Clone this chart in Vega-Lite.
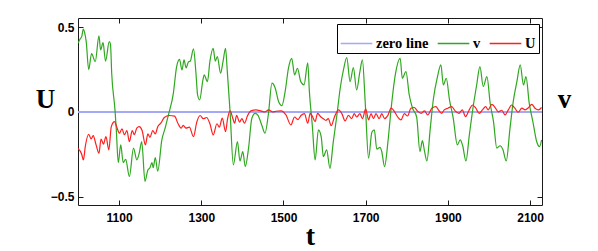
{
 "$schema": "https://vega.github.io/schema/vega-lite/v6.json",
 "width": 464,
 "height": 187,
 "autosize": {"type": "none"},
 "padding": {"left": 78, "top": 18, "right": 56, "bottom": 46},
 "background": "white",
 "config": {
  "view": {"stroke": null},
  "axis": {
   "domainColor": "#1a1a1a", "domainWidth": 1, "tickColor": "#1a1a1a", "tickWidth": 1, "tickSize": -5,
   "labelFont": "Liberation Sans", "labelFontWeight": "bold", "labelFontSize": 12, "labelColor": "black",
   "labelFlush": false, "labelOverlap": false, "grid": false,
   "titleFont": "Liberation Serif", "titleFontWeight": "bold", "titleFontSize": 27, "titleColor": "black",
   "zindex": 1
  }
 },
 "datasets": {
  "zero": [
   {"t": 1000, "s": "zero line", "y": 0},
   {"t": 2129, "s": "zero line", "y": 0}
  ],
  "vu": [
   {"t":1000,"s":"v","y":0.406},{"t":1005,"s":"v","y":0.43},{"t":1009,"s":"v","y":0.445},{"t":1013,"s":"v","y":0.489},{"t":1016,"s":"v","y":0.47},{"t":1020,"s":"v","y":0.415},{"t":1026,"s":"v","y":0.25},{"t":1033,"s":"v","y":0.345},{"t":1042,"s":"v","y":0.297},{"t":1051,"s":"v","y":0.449},{"t":1055,"s":"v","y":0.366},{"t":1061,"s":"v","y":0.409},{"t":1067,"s":"v","y":0.3},{"t":1076,"s":"v","y":0.415},{"t":1079,"s":"v","y":0.4},{"t":1082,"s":"v","y":0.229},{"t":1090,"s":"v","y":0.012},{"t":1093,"s":"v","y":-0.096},{"t":1098,"s":"v","y":-0.3},{"t":1104,"s":"v","y":-0.195},{"t":1110,"s":"v","y":-0.3},{"t":1116,"s":"v","y":-0.28},{"t":1125,"s":"v","y":-0.382},{"t":1135,"s":"v","y":-0.214},{"t":1143,"s":"v","y":-0.283},{"t":1149,"s":"v","y":-0.244},{"t":1155,"s":"v","y":-0.175},{"t":1163,"s":"v","y":-0.41},{"t":1170,"s":"v","y":-0.343},{"t":1175,"s":"v","y":-0.33},{"t":1180,"s":"v","y":-0.3},{"t":1183,"s":"v","y":-0.33},{"t":1188,"s":"v","y":-0.27},{"t":1194,"s":"v","y":-0.35},{"t":1204,"s":"v","y":-0.165},{"t":1212,"s":"v","y":-0.096},{"t":1220,"s":"v","y":-0.018},{"t":1232,"s":"v","y":0.11},{"t":1240,"s":"v","y":0.268},{"t":1247,"s":"v","y":0.311},{"t":1253,"s":"v","y":0.248},{"t":1258,"s":"v","y":0.307},{"t":1263,"s":"v","y":0.26},{"t":1269,"s":"v","y":0.297},{"t":1273,"s":"v","y":0.3},{"t":1281,"s":"v","y":0.372},{"t":1287,"s":"v","y":0.229},{"t":1291,"s":"v","y":0.1},{"t":1296,"s":"v","y":0.071},{"t":1304,"s":"v","y":0.19},{"t":1307,"s":"v","y":0.219},{"t":1315,"s":"v","y":0.179},{"t":1321,"s":"v","y":0.3},{"t":1329,"s":"v","y":0.376},{"t":1334,"s":"v","y":0.3},{"t":1339,"s":"v","y":0.327},{"t":1347,"s":"v","y":0.229},{"t":1353,"s":"v","y":0.3},{"t":1359,"s":"v","y":0.376},{"t":1363,"s":"v","y":0.25},{"t":1370,"s":"v","y":0.002},{"t":1378,"s":"v","y":-0.313},{"t":1388,"s":"v","y":-0.175},{"t":1394,"s":"v","y":-0.29},{"t":1401,"s":"v","y":-0.234},{"t":1407,"s":"v","y":-0.323},{"t":1415,"s":"v","y":-0.214},{"t":1423,"s":"v","y":-0.037},{"t":1431,"s":"v","y":-0.008},{"t":1438,"s":"v","y":-0.02},{"t":1447,"s":"v","y":-0.077},{"t":1455,"s":"v","y":-0.126},{"t":1463,"s":"v","y":-0.018},{"t":1472,"s":"v","y":0.17},{"t":1480,"s":"v","y":0.14},{"t":1488,"s":"v","y":0.061},{"t":1496,"s":"v","y":0.037},{"t":1504,"s":"v","y":0.12},{"t":1512,"s":"v","y":0.258},{"t":1520,"s":"v","y":0.317},{"t":1527,"s":"v","y":0.219},{"t":1534,"s":"v","y":0.258},{"t":1542,"s":"v","y":0.179},{"t":1550,"s":"v","y":0.16},{"t":1559,"s":"v","y":0.29},{"t":1563,"s":"v","y":0.12},{"t":1570,"s":"v","y":-0.077},{"t":1577,"s":"v","y":-0.283},{"t":1585,"s":"v","y":-0.106},{"t":1592,"s":"v","y":-0.15},{"t":1597,"s":"v","y":-0.264},{"t":1605,"s":"v","y":-0.224},{"t":1613,"s":"v","y":-0.333},{"t":1621,"s":"v","y":-0.18},{"t":1630,"s":"v","y":-0.018},{"t":1638,"s":"v","y":0.14},{"t":1646,"s":"v","y":0.25},{"t":1654,"s":"v","y":0.321},{"t":1662,"s":"v","y":0.179},{"t":1670,"s":"v","y":0.262},{"t":1678,"s":"v","y":0.13},{"t":1686,"s":"v","y":0.24},{"t":1692,"s":"v","y":0.307},{"t":1699,"s":"v","y":0.05},{"t":1707,"s":"v","y":-0.273},{"t":1715,"s":"v","y":-0.12},{"t":1721,"s":"v","y":-0.106},{"t":1727,"s":"v","y":-0.22},{"t":1735,"s":"v","y":-0.21},{"t":1739,"s":"v","y":-0.234},{"t":1746,"s":"v","y":-0.323},{"t":1754,"s":"v","y":-0.18},{"t":1762,"s":"v","y":0.022},{"t":1772,"s":"v","y":0.219},{"t":1784,"s":"v","y":0.317},{"t":1789,"s":"v","y":0.199},{"t":1798,"s":"v","y":0.238},{"t":1806,"s":"v","y":0.1},{"t":1814,"s":"v","y":0.022},{"t":1824,"s":"v","y":-0.03},{"t":1832,"s":"v","y":-0.234},{"t":1838,"s":"v","y":-0.17},{"t":1843,"s":"v","y":-0.23},{"t":1849,"s":"v","y":-0.29},{"t":1857,"s":"v","y":-0.1},{"t":1865,"s":"v","y":0.081},{"t":1874,"s":"v","y":0.2},{"t":1883,"s":"v","y":0.278},{"t":1889,"s":"v","y":0.159},{"t":1896,"s":"v","y":0.199},{"t":1904,"s":"v","y":0.07},{"t":1913,"s":"v","y":-0.037},{"t":1923,"s":"v","y":-0.195},{"t":1930,"s":"v","y":-0.165},{"t":1936,"s":"v","y":-0.2},{"t":1944,"s":"v","y":-0.29},{"t":1952,"s":"v","y":-0.14},{"t":1961,"s":"v","y":0.022},{"t":1970,"s":"v","y":0.159},{"t":1978,"s":"v","y":0.268},{"t":1986,"s":"v","y":0.15},{"t":1995,"s":"v","y":0.209},{"t":2003,"s":"v","y":0.05},{"t":2011,"s":"v","y":-0.057},{"t":2019,"s":"v","y":-0.214},{"t":2027,"s":"v","y":-0.2},{"t":2034,"s":"v","y":-0.224},{"t":2042,"s":"v","y":-0.29},{"t":2051,"s":"v","y":-0.1},{"t":2059,"s":"v","y":0.061},{"t":2068,"s":"v","y":0.18},{"t":2076,"s":"v","y":0.278},{"t":2084,"s":"v","y":0.159},{"t":2090,"s":"v","y":0.209},{"t":2098,"s":"v","y":0.05},{"t":2107,"s":"v","y":-0.06},{"t":2116,"s":"v","y":-0.175},{"t":2123,"s":"v","y":-0.205},{"t":2128,"s":"v","y":-0.165},
   {"t":1000,"s":"U","y":-0.215},{"t":1005,"s":"U","y":-0.23},{"t":1009,"s":"U","y":-0.25},{"t":1013,"s":"U","y":-0.284},{"t":1018,"s":"U","y":-0.2},{"t":1026,"s":"U","y":-0.132},{"t":1032,"s":"U","y":-0.16},{"t":1037,"s":"U","y":-0.14},{"t":1044,"s":"U","y":-0.195},{"t":1051,"s":"U","y":-0.244},{"t":1056,"s":"U","y":-0.16},{"t":1062,"s":"U","y":-0.19},{"t":1068,"s":"U","y":-0.146},{"t":1075,"s":"U","y":-0.224},{"t":1081,"s":"U","y":-0.087},{"t":1089,"s":"U","y":-0.057},{"t":1094,"s":"U","y":-0.087},{"t":1101,"s":"U","y":-0.126},{"t":1107,"s":"U","y":-0.1},{"t":1113,"s":"U","y":-0.135},{"t":1119,"s":"U","y":-0.11},{"t":1125,"s":"U","y":-0.175},{"t":1132,"s":"U","y":-0.11},{"t":1137,"s":"U","y":-0.135},{"t":1143,"s":"U","y":-0.096},{"t":1149,"s":"U","y":-0.087},{"t":1156,"s":"U","y":-0.11},{"t":1164,"s":"U","y":-0.195},{"t":1170,"s":"U","y":-0.13},{"t":1175,"s":"U","y":-0.15},{"t":1182,"s":"U","y":-0.11},{"t":1188,"s":"U","y":-0.13},{"t":1194,"s":"U","y":-0.087},{"t":1202,"s":"U","y":-0.065},{"t":1210,"s":"U","y":-0.033},{"t":1222,"s":"U","y":-0.021},{"t":1235,"s":"U","y":-0.025},{"t":1243,"s":"U","y":-0.067},{"t":1251,"s":"U","y":-0.096},{"t":1256,"s":"U","y":-0.08},{"t":1263,"s":"U","y":-0.096},{"t":1271,"s":"U","y":-0.09},{"t":1281,"s":"U","y":-0.146},{"t":1289,"s":"U","y":-0.06},{"t":1297,"s":"U","y":-0.021},{"t":1305,"s":"U","y":-0.04},{"t":1313,"s":"U","y":-0.033},{"t":1321,"s":"U","y":-0.07},{"t":1329,"s":"U","y":-0.136},{"t":1338,"s":"U","y":-0.07},{"t":1344,"s":"U","y":-0.09},{"t":1351,"s":"U","y":-0.037},{"t":1359,"s":"U","y":-0.116},{"t":1364,"s":"U","y":-0.04},{"t":1370,"s":"U","y":0.006},{"t":1377,"s":"U","y":-0.04},{"t":1381,"s":"U","y":-0.067},{"t":1386,"s":"U","y":-0.02},{"t":1393,"s":"U","y":-0.06},{"t":1399,"s":"U","y":-0.04},{"t":1405,"s":"U","y":-0.067},{"t":1413,"s":"U","y":-0.02},{"t":1421,"s":"U","y":0.006},{"t":1433,"s":"U","y":0.012},{"t":1445,"s":"U","y":0.006},{"t":1454,"s":"U","y":0.0},{"t":1464,"s":"U","y":0.012},{"t":1474,"s":"U","y":0.0},{"t":1482,"s":"U","y":0.004},{"t":1494,"s":"U","y":0.006},{"t":1506,"s":"U","y":-0.018},{"t":1518,"s":"U","y":-0.077},{"t":1527,"s":"U","y":-0.03},{"t":1535,"s":"U","y":-0.045},{"t":1543,"s":"U","y":-0.02},{"t":1551,"s":"U","y":-0.01},{"t":1559,"s":"U","y":-0.067},{"t":1565,"s":"U","y":-0.008},{"t":1570,"s":"U","y":-0.025},{"t":1577,"s":"U","y":-0.057},{"t":1583,"s":"U","y":-0.008},{"t":1591,"s":"U","y":-0.03},{"t":1597,"s":"U","y":-0.04},{"t":1603,"s":"U","y":-0.05},{"t":1609,"s":"U","y":-0.04},{"t":1616,"s":"U","y":-0.081},{"t":1624,"s":"U","y":-0.03},{"t":1634,"s":"U","y":0.012},{"t":1642,"s":"U","y":-0.01},{"t":1650,"s":"U","y":-0.053},{"t":1658,"s":"U","y":-0.02},{"t":1666,"s":"U","y":-0.04},{"t":1672,"s":"U","y":-0.01},{"t":1678,"s":"U","y":-0.03},{"t":1686,"s":"U","y":-0.01},{"t":1692,"s":"U","y":-0.04},{"t":1700,"s":"U","y":0.018},{"t":1707,"s":"U","y":-0.047},{"t":1713,"s":"U","y":-0.01},{"t":1719,"s":"U","y":-0.04},{"t":1725,"s":"U","y":-0.01},{"t":1733,"s":"U","y":-0.04},{"t":1739,"s":"U","y":-0.01},{"t":1746,"s":"U","y":-0.04},{"t":1754,"s":"U","y":-0.02},{"t":1762,"s":"U","y":0.022},{"t":1770,"s":"U","y":0.002},{"t":1778,"s":"U","y":-0.03},{"t":1786,"s":"U","y":-0.047},{"t":1794,"s":"U","y":-0.01},{"t":1802,"s":"U","y":-0.024},{"t":1810,"s":"U","y":0.022},{"t":1818,"s":"U","y":0.026},{"t":1827,"s":"U","y":0.002},{"t":1835,"s":"U","y":-0.008},{"t":1843,"s":"U","y":0.006},{"t":1851,"s":"U","y":-0.018},{"t":1861,"s":"U","y":0.022},{"t":1871,"s":"U","y":0.031},{"t":1877,"s":"U","y":0.012},{"t":1885,"s":"U","y":-0.008},{"t":1891,"s":"U","y":0.012},{"t":1900,"s":"U","y":0.022},{"t":1909,"s":"U","y":0.031},{"t":1919,"s":"U","y":0.002},{"t":1927,"s":"U","y":-0.008},{"t":1935,"s":"U","y":0.012},{"t":1943,"s":"U","y":-0.028},{"t":1952,"s":"U","y":0.012},{"t":1960,"s":"U","y":0.041},{"t":1968,"s":"U","y":0.022},{"t":1976,"s":"U","y":-0.008},{"t":1984,"s":"U","y":0.012},{"t":1992,"s":"U","y":0.031},{"t":1998,"s":"U","y":0.012},{"t":2007,"s":"U","y":0.045},{"t":2015,"s":"U","y":0.025},{"t":2023,"s":"U","y":0.0},{"t":2031,"s":"U","y":0.01},{"t":2039,"s":"U","y":-0.018},{"t":2047,"s":"U","y":0.012},{"t":2055,"s":"U","y":0.041},{"t":2063,"s":"U","y":0.022},{"t":2071,"s":"U","y":-0.002},{"t":2080,"s":"U","y":0.022},{"t":2088,"s":"U","y":0.012},{"t":2096,"s":"U","y":0.025},{"t":2104,"s":"U","y":0.045},{"t":2112,"s":"U","y":0.022},{"t":2120,"s":"U","y":0.012},{"t":2128,"s":"U","y":0.026}
  ]
 },
 "layer": [
  {
   "data": {"name": "zero"},
   "mark": {"type": "line", "strokeWidth": 2, "clip": true},
   "encoding": {
    "x": {"field": "t", "type": "quantitative",
     "scale": {"domain": [1000, 2129], "nice": false, "zero": false},
     "axis": {"orient": "bottom", "values": [1100, 1300, 1500, 1700, 1900, 2100], "format": "d", "labelPadding": 12,
      "title": "t", "titleAlign": "center", "titleBaseline": "alphabetic", "titleX": 232, "titleY": 39, "titleFontSize": 28}},
    "y": {"field": "y", "type": "quantitative",
     "scale": {"domain": [-0.55, 0.555], "nice": false, "zero": false},
     "axis": {"orient": "left", "values": [-0.5, 0, 0.5], "format": "~g", "labelPadding": 9,
      "title": "U", "titleAngle": 0, "titleAlign": "center", "titleBaseline": "alphabetic", "titleX": -33, "titleY": 89}},
    "color": {"field": "s", "type": "nominal",
     "scale": {"domain": ["zero line", "v", "U"], "range": ["#a3a9f7", "#2fa81f", "#ff1f1f"]},
     "legend": {"title": null, "orient": "none", "legendX": 259, "legendY": 6, "direction": "horizontal",
      "symbolType": "stroke", "symbolSize": 1000, "symbolStrokeWidth": 1.3,
      "labelFont": "Liberation Serif", "labelFontWeight": "bold", "labelFontSize": 14.5, "labelColor": "black",
      "labelOffset": 3, "columnPadding": 6, "padding": 3,
      "strokeColor": "black", "fillColor": "white", "cornerRadius": 0}}
   }
  },
  {
   "data": {"name": "vu"},
   "mark": {"type": "line", "strokeWidth": 1.2, "interpolate": "monotone", "clip": true},
   "encoding": {
    "x": {"field": "t", "type": "quantitative",
     "scale": {"domain": [1000, 2129], "nice": false, "zero": false},
     "axis": {"orient": "top", "values": [1100, 1300, 1500, 1700, 1900, 2100], "labels": false, "title": null}},
    "y": {"field": "y", "type": "quantitative",
     "scale": {"domain": [-0.55, 0.555], "nice": false, "zero": false},
     "axis": {"orient": "right", "values": [-0.5, 0, 0.5], "labels": false,
      "title": "v", "titleAngle": 0, "titleAlign": "center", "titleBaseline": "alphabetic", "titleX": 22, "titleY": 89}},
    "color": {"field": "s", "type": "nominal",
     "scale": {"domain": ["zero line", "v", "U"], "range": ["#a3a9f7", "#2fa81f", "#ff1f1f"]}}
   }
  }
 ],
 "resolve": {"axis": {"x": "independent", "y": "independent"}}
}
